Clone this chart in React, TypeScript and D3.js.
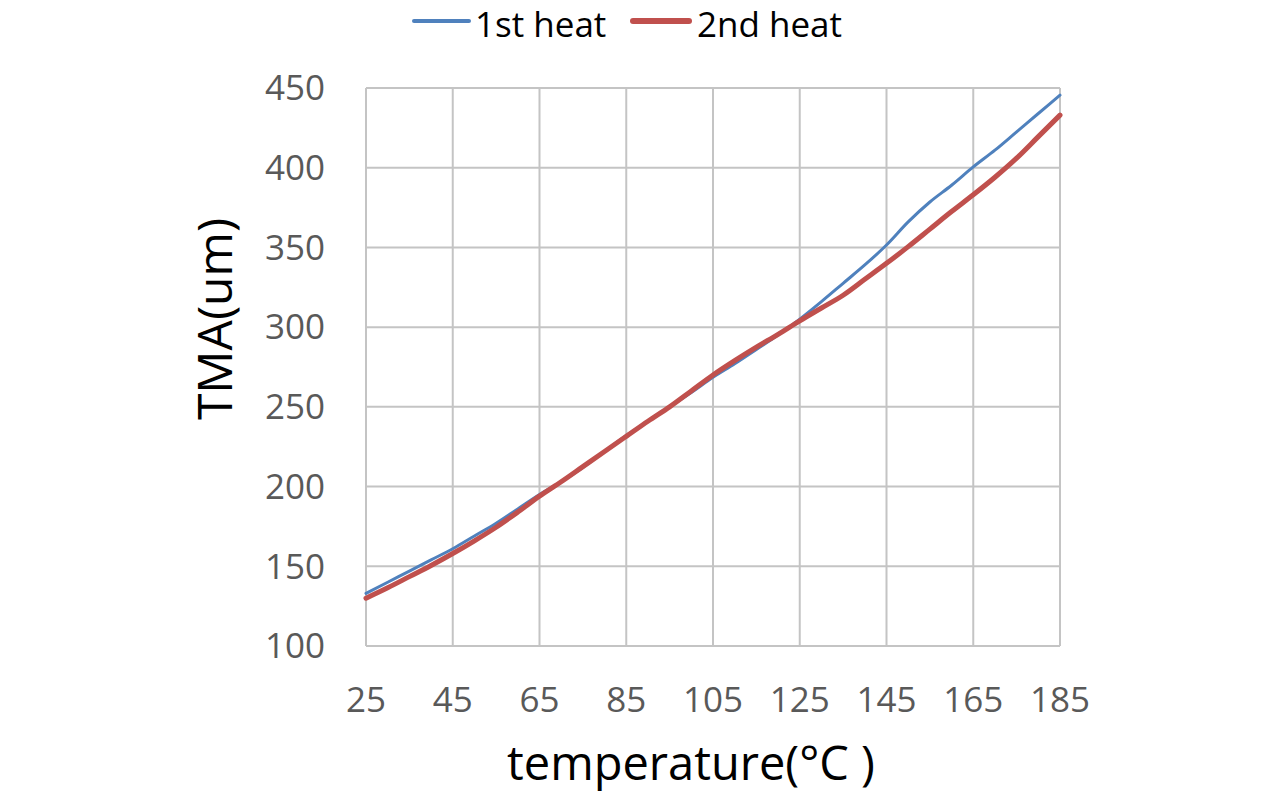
import * as d3 from "d3";

// Temperature (°C) sampled every 5 degrees
const TEMPS = [
  25, 30, 35, 40, 45, 50, 55, 60, 65, 70, 75, 80, 85, 90, 95, 100, 105,
  110, 115, 120, 125, 130, 135, 140, 145, 150, 155, 160, 165, 170, 175, 180, 185,
];

const HEAT1 = [
  133, 140, 147, 154, 161, 169, 177, 186, 195, 203, 212, 222, 232, 241, 250, 259, 268.5,
  277, 286, 295, 305, 316, 327.5, 339, 351.5, 366, 378.5, 389, 400.5, 411, 422.5, 434, 445.5,
];

const HEAT2 = [
  130, 136.5, 143.5, 150.5, 158, 166, 174.5, 184, 194, 203, 212.5, 222, 231.5, 241, 250, 260, 270,
  279, 287.5, 295.5, 304, 312, 320, 330, 340, 350.5, 361.5, 372.5, 383, 394, 406, 419.5, 433,
];

const X_TICKS = [25, 45, 65, 85, 105, 125, 145, 165, 185];
const Y_TICKS = [100, 150, 200, 250, 300, 350, 400, 450];

const SERIES = [
  { name: "1st heat", values: HEAT1, color: "#4f81bd", width: 3 },
  { name: "2nd heat", values: HEAT2, color: "#c0504d", width: 5 },
];

const W = 1284;
const H = 794;
const FONT = "'Open Sans', 'Noto Sans', sans-serif";

export default function App() {
  const x = d3.scaleLinear().domain([25, 185]).range([366, 1060]);
  const y = d3.scaleLinear().domain([100, 450]).range([646, 88]);

  const line = d3
    .line<[number, number]>()
    .x((d) => x(d[0]))
    .y((d) => y(d[1]))
    .curve(d3.curveMonotoneX);

  return (
    <svg
      width={W}
      height={H}
      style={{ position: "absolute", left: 0, top: 0, background: "#fff" }}
      fontFamily={FONT}
    >
      {/* grid */}
      {Y_TICKS.map((t) => (
        <line key={"h" + t} x1={x(25)} x2={x(185)} y1={y(t)} y2={y(t)} stroke="#c4c4c4" strokeWidth={2} />
      ))}
      {X_TICKS.map((t) => (
        <line key={"v" + t} x1={x(t)} x2={x(t)} y1={y(100)} y2={y(450)} stroke="#c4c4c4" strokeWidth={2} />
      ))}

      {/* y tick labels */}
      {Y_TICKS.map((t) => (
        <text key={"yl" + t} x={325} y={y(t)} dy="0.35em" textAnchor="end" fontSize={35} fill="#595959">
          {t}
        </text>
      ))}
      {/* x tick labels */}
      {X_TICKS.map((t) => (
        <text key={"xl" + t} x={x(t)} y={712} textAnchor="middle" fontSize={35} fill="#595959">
          {t}
        </text>
      ))}

      {/* series */}
      {SERIES.map((s) => (
        <path
          key={s.name}
          d={line(TEMPS.map((t, i) => [t, s.values[i]] as [number, number])) ?? ""}
          fill="none"
          stroke={s.color}
          strokeWidth={s.width}
          strokeLinecap="round"
        />
      ))}

      {/* axis titles */}
      <text
        transform="translate(232,319) rotate(-90)"
        textAnchor="middle"
        fontSize={48}
        fill="#000"
      >
        TMA(um)
      </text>
      <text x={691} y={780} textAnchor="middle" fontSize={47} fill="#000">
        temperature(°C )
      </text>

      {/* legend */}
      <line x1={414} x2={469} y1={21} y2={21} stroke={SERIES[0].color} strokeWidth={4} strokeLinecap="round" />
      <text x={475} y={37} fontSize={35} fill="#000">
        {SERIES[0].name}
      </text>
      <line x1={633} x2={689} y1={21} y2={21} stroke={SERIES[1].color} strokeWidth={6} strokeLinecap="round" />
      <text x={697} y={37} fontSize={35} fill="#000">
        {SERIES[1].name}
      </text>
    </svg>
  );
}
